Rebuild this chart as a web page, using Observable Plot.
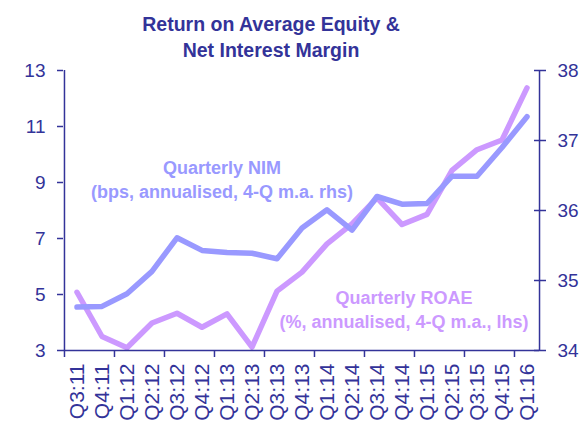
<!DOCTYPE html>
<html>
<head>
<meta charset="utf-8">
<script src="https://cdn.jsdelivr.net/npm/d3@7"></script>
<script src="https://cdn.jsdelivr.net/npm/@observablehq/plot@0.6"></script>
<style>
  html, body { margin: 0; padding: 0; background: #ffffff; overflow: hidden; }
  #title {
    width: 542px; height: 58px; box-sizing: border-box; padding-top: 11px;
    text-align: center; font-family: "Liberation Sans", Arial, sans-serif;
    font-weight: bold; font-size: 19.5px; line-height: 26px; color: #333399;
  }
  #chart svg { display: block; }
</style>
</head>
<body>
<div id="title">Return on Average Equity &amp;<br>Net Interest Margin</div>
<div id="chart"></div>
<script>
const quarters = ["Q3:11","Q4:11","Q1:12","Q2:12","Q3:12","Q4:12","Q1:13","Q2:13","Q3:13","Q4:13",
                  "Q1:14","Q2:14","Q3:14","Q4:14","Q1:15","Q2:15","Q3:15","Q4:15","Q1:16"];
// Quarterly ROAE (%, annualised, 4-Q m.a., lhs)
const roae = [5.08,3.5,3.1,3.98,4.33,3.83,4.31,3.12,5.12,5.8,6.81,7.52,8.45,7.5,7.86,9.43,10.17,10.52,12.38];
// Quarterly NIM (bps, annualised, 4-Q m.a., rhs)
const nim = [34.62,34.63,34.81,35.13,35.61,35.43,35.40,35.39,35.31,35.75,36.01,35.72,36.2,36.09,36.1,36.49,36.49,36.9,37.34];
const leftTicks = [3,5,7,9,11,13];
const rightTicks = [34,35,36,37,38];
const nimLabel = "Quarterly NIM\n(bps, annualised, 4-Q m.a. rhs)";
const roaeLabel = "Quarterly ROAE\n(%, annualised, 4-Q m.a., lhs)";

// map right-axis values onto the left-axis scale
const rMin = 34, rMax = 38, lMin = 3, lMax = 13;
const toLeft = v => lMin + (v - rMin) * (lMax - lMin) / (rMax - rMin);
const fromLeft = v => rMin + (v - lMin) * (rMax - rMin) / (lMax - lMin);

const W = 579, H = 367, mL = 63, mR = 40, mT = 12, mB = 75;
const half = (W - mL - mR) / quarters.length / 2;
const axisColor = "#333399";
const nimColor = "#9999FF";
const roaeColor = "#CC99FF";

const roaeData = quarters.map((q, i) => ({q, v: roae[i]}));
const nimData = quarters.map((q, i) => ({q, v: toLeft(nim[i])}));

const chart = Plot.plot({
  width: W, height: H,
  marginTop: mT, marginLeft: mL, marginRight: mR, marginBottom: mB,
  style: {fontFamily: "'Liberation Sans', Arial, sans-serif", background: "#ffffff", color: axisColor},
  x: {type: "band", domain: quarters, padding: 0, label: null},
  y: {domain: [lMin, lMax], label: null},
  marks: [
    Plot.line(roaeData, {x: "q", y: "v", stroke: roaeColor, strokeWidth: 5.5, strokeLinejoin: "round"}),
    Plot.line(nimData, {x: "q", y: "v", stroke: nimColor, strokeWidth: 5.5, strokeLinejoin: "round"}),
    Plot.text([nimLabel], {x: () => "Q4:12", y: () => 9.16, dx: 20, text: d => d,
      fontSize: 18, fontWeight: "bold", fill: nimColor, lineHeight: 1.33, textAnchor: "middle"}),
    Plot.text([roaeLabel], {x: () => "Q4:14", y: () => 4.5, dx: 2, text: d => d,
      fontSize: 18, fontWeight: "bold", fill: roaeColor, lineHeight: 1.33, textAnchor: "middle"}),
    // axis lines
    Plot.ruleY([lMin], {stroke: axisColor, strokeWidth: 1.5}),
    Plot.ruleX([quarters[0]], {dx: -half, stroke: axisColor, strokeWidth: 1.5}),
    Plot.ruleX([quarters[quarters.length - 1]], {dx: half, stroke: axisColor, strokeWidth: 1.5}),
    // x ticks every other quarter boundary
    Plot.ruleX(quarters.filter((d, i) => i % 2 === 0), {dx: -half, y1: lMin, y2: lMin - 0.25, stroke: axisColor, strokeWidth: 1.5}),
    Plot.axisX({tickSize: 0, tickPadding: 13, tickRotate: -90, fontSize: 21, color: axisColor, label: null}),
    Plot.axisY(leftTicks, {anchor: "left", tickSize: 6, tickPadding: 12, fontSize: 19, color: axisColor, strokeWidth: 1.5, label: null}),
    Plot.axisY(rightTicks.map(toLeft), {anchor: "right", tickSize: 6, tickPadding: 12, fontSize: 19, color: axisColor,
      strokeWidth: 1.5, label: null, tickFormat: d => String(Math.round(fromLeft(d)))}),
    Plot.axisY(rightTicks.map(toLeft), {anchor: "right", tickSize: -6, tickFormat: () => "", color: axisColor, strokeWidth: 1.5, label: null})
  ]
});
document.getElementById("chart").appendChild(chart);
</script>
</body>
</html>
